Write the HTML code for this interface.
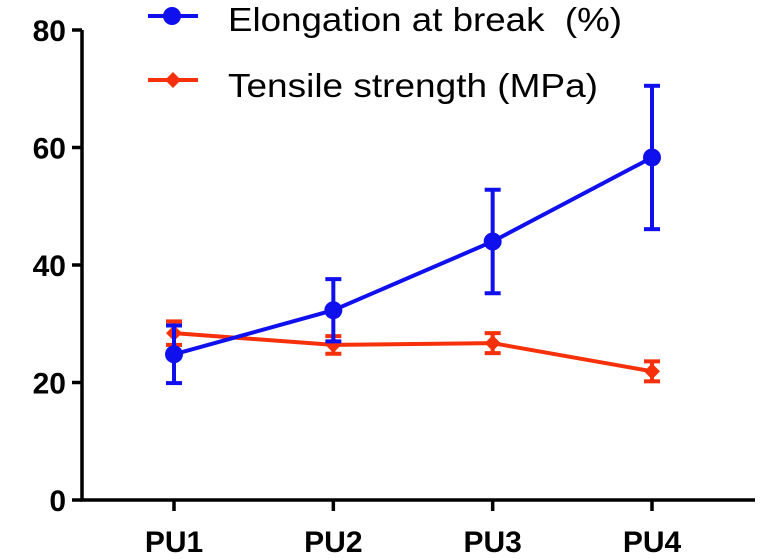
<!DOCTYPE html>
<html><head><meta charset="utf-8"><style>
html,body{margin:0;padding:0;background:#fff;width:774px;height:559px;overflow:hidden}
text{font-family:"Liberation Sans",Arial,sans-serif}
</style></head><body>
<svg id="chart" width="774" height="559" xmlns="http://www.w3.org/2000/svg">
<g id="axes"></g><g id="series"></g>
<g>
 <g>
  <line x1="148" y1="16" x2="198" y2="16" stroke="#1010ee" stroke-width="4"/>
  <circle cx="172" cy="16" r="9" fill="#1010ee"/>
  <text x="228" y="31" font-size="33" fill="#000" textLength="394" lengthAdjust="spacingAndGlyphs" xml:space="preserve">Elongation at break  (%)</text>
 </g>
 <g>
  <line x1="148" y1="80" x2="198" y2="80" stroke="#f5300a" stroke-width="4"/>
  <path d="M173 72 L181 80 L173 88 L165 80 Z" fill="#f5300a"/>
  <text x="228" y="97" font-size="33" fill="#000" textLength="370" lengthAdjust="spacingAndGlyphs">Tensile strength (MPa)</text>
 </g>
</g>
</svg>
<script>
const categories=["PU1","PU2","PU3","PU4"];
const elongation=[24.8,32.3,44.0,58.3];
const elongationErr=[4.9,5.3,8.8,12.2];
const tensile=[28.4,26.4,26.7,21.9];
const tensileErr=[2.0,1.5,1.7,1.7];
const yTicks=[0,20,40,60,80];

const NS="http://www.w3.org/2000/svg";
const x0=82,y0=500,yTop=30,xEnd=755;
const xPos=[174,333,492,652];
function y(v){return y0-(v/80)*(y0-yTop);}
function x(i){return xPos[0]+i*(xPos[3]-xPos[0])/(categories.length-1);}
function mk(t,a,p){const e=document.createElementNS(NS,t);for(const k in a)e.setAttribute(k,a[k]);p.appendChild(e);return e;}
const axes=document.getElementById('axes'),ser=document.getElementById('series');
let ya=mk('line',{x1:x0,y1:yTop,x2:x0,y2:y0+1.5,stroke:'#000','stroke-width':3.5},axes);


let xa=mk('line',{x1:x0-1.5,y1:y0,x2:xEnd,y2:y0,stroke:'#000','stroke-width':3.5},axes);


yTicks.forEach(v=>{
 mk('line',{x1:x0-10,y1:y(v),x2:x0,y2:y(v),stroke:'#000','stroke-width':3.5},axes);
 const t=mk('text',{x:x0-16,y:y(v)+11,'text-anchor':'end','font-size':30,'font-weight':'bold'},axes);
 t.textContent=v;
 
 
});
categories.forEach((c,i)=>{
 mk('line',{x1:x(i),y1:y0,x2:x(i),y2:y0+11,stroke:'#000','stroke-width':3.5},axes);
 const t=mk('text',{x:x(i),y:y0+52,'text-anchor':'middle','font-size':30,'font-weight':'bold'},axes);
 t.textContent=c;
 
 
});
function series(vals,errs,color,marker,name){
 const g=mk('g',{},ser);
 
 
 vals.forEach((v,i)=>{
  const lo=y(v-errs[i]),hi=y(v+errs[i]);
  mk('line',{x1:x(i),y1:hi,x2:x(i),y2:lo,stroke:color,'stroke-width':4},g);
  mk('line',{x1:x(i)-8,y1:hi,x2:x(i)+8,y2:hi,stroke:color,'stroke-width':4},g);
  mk('line',{x1:x(i)-8,y1:lo,x2:x(i)+8,y2:lo,stroke:color,'stroke-width':4},g);
 });
 mk('polyline',{points:vals.map((v,i)=>x(i)+','+y(v)).join(' '),fill:'none',stroke:color,'stroke-width':4},g);
 vals.forEach((v,i)=>{
  let m;
  if(marker==='circle')m=mk('circle',{cx:x(i),cy:y(v),r:9,fill:color},g);
  else m=mk('path',{d:`M${x(i)} ${y(v)-8} L${x(i)+8} ${y(v)} L${x(i)} ${y(v)+8} L${x(i)-8} ${y(v)} Z`,fill:color},g);
  
  
 });
}
series(tensile,tensileErr,'#f5300a','diamond','tensile-series');
series(elongation,elongationErr,'#1010ee','circle','elongation-series');
</script>
</body></html>
